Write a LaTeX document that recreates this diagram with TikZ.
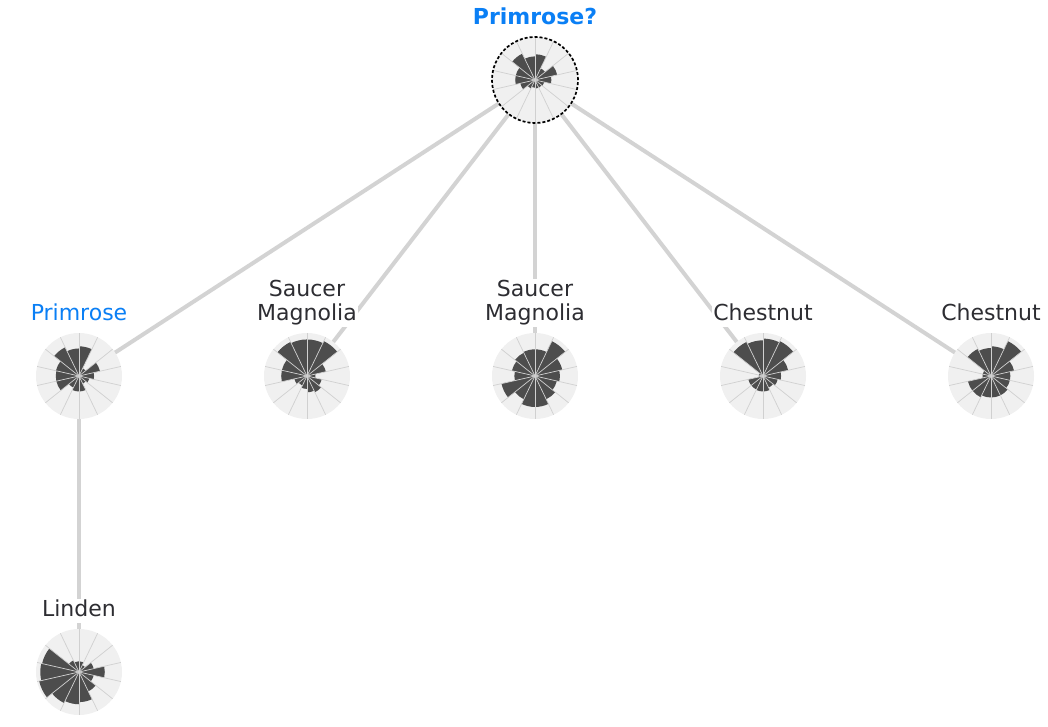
\documentclass[tikz,border=0pt]{standalone}
\usepackage{fontspec}
\setmainfont{DejaVu Sans}
\definecolor{roseblue} {RGB}{10,127,245}
\definecolor{rosetext} {RGB}{45,45,50}
\definecolor{roseedge} {RGB}{211,211,211}
\definecolor{rosedisc} {RGB}{240,240,240}
\definecolor{rosegrid} {RGB}{208,208,208}
\definecolor{rosewedge}{RGB}{77,77,77}
\usetikzlibrary{positioning,backgrounds}
\tikzset{
  disc/.style={circle,fill=rosedisc,minimum size=86pt,inner sep=0pt},
  lbl/.style={fill=white,text=#1,inner sep=1pt,align=center,text depth=5pt,
              font=\fontsize{22}{24}\selectfont},
  lbl/.default=rosetext,
  link/.style={draw=roseedge,line width=4pt},
  spoke/.style={draw=rosegrid,line width=0.7pt},
}
\newcommand\rosewedges[2]{%
  \foreach \rr [count=\i from 0] in {#2}{
    \pgfmathsetmacro\aa{90-(\i+1)*360/14}
    \pgfmathsetmacro\bb{90-\i*360/14}
    \fill[rosewedge] (#1.center) -- ++({\aa}:{\rr*43pt})
      arc[start angle=\aa,end angle=\bb,radius={\rr*43pt}] -- cycle;
  }
  \foreach \k in {0,...,13}
    \draw[spoke] (#1.center) -- ++({90-\k*360/14}:43pt);
}

\begin{document}
\begin{tikzpicture}[x=1pt,y=1pt]
  \useasboundingbox (0,0) rectangle (1048,726);
  \node[disc] (query) at (535,646) {};
  \foreach \nm/\xx in {p1/79, sm1/307, sm2/535, ch1/763, ch2/991}
    \node[disc] (\nm) at (\xx,350) {};
  \node[disc] (lin) at (79,54) {};

  \rosewedges{query}{0.6,0.3,0.53,0.38,0.22,0.2,0.2,0.18,0.22,0.35,0.46,0.46,0.68,0.55}
  \rosewedges{p1}{0.69,0.2,0.5,0.35,0.25,0.2,0.36,0.36,0.3,0.54,0.54,0.55,0.74,0.64}
  \rosewedges{sm1}{0.85,0.9,0.45,0.2,0.35,0.42,0.38,0.3,0.25,0.3,0.6,0.6,0.88,0.85}
  \rosewedges{sm2}{0.62,0.9,0.65,0.58,0.52,0.6,0.72,0.72,0.6,0.8,0.48,0.55,0.6,0.62}
  \rosewedges{ch1}{0.87,0.9,0.6,0.42,0.35,0.3,0.36,0.36,0.35,0.35,0.1,0.1,0.88,0.83}
  \rosewedges{ch2}{0.69,0.9,0.55,0.45,0.45,0.5,0.5,0.5,0.55,0.55,0.2,0.2,0.7,0.65}
  \rosewedges{lin}{0.25,0.18,0.35,0.6,0.35,0.5,0.7,0.75,0.8,0.95,0.9,0.88,0.3,0.25}
  \draw[black,line width=1.7pt,dash pattern=on 3pt off 2pt] (query.center) circle (43pt);

  \node[lbl=roseblue,above=6pt of query,font=\fontsize{22}{24}\selectfont\bfseries] {Primrose?};
  \foreach \nm/\txt/\col in {p1/Primrose/roseblue, sm1/{Saucer\\Magnolia}/rosetext,
      sm2/{Saucer\\Magnolia}/rosetext, ch1/Chestnut/rosetext, ch2/Chestnut/rosetext,
      lin/Linden/rosetext}
    \node[lbl=\col,above=6pt of \nm] {\txt};

  \begin{scope}[on background layer]
    \foreach \nm in {p1,sm1,sm2,ch1,ch2}
      \draw[link] (query.center) -- (\nm.center);
    \draw[link] (p1.center) -- (lin.center);
  \end{scope}
\end{tikzpicture}
\end{document}
